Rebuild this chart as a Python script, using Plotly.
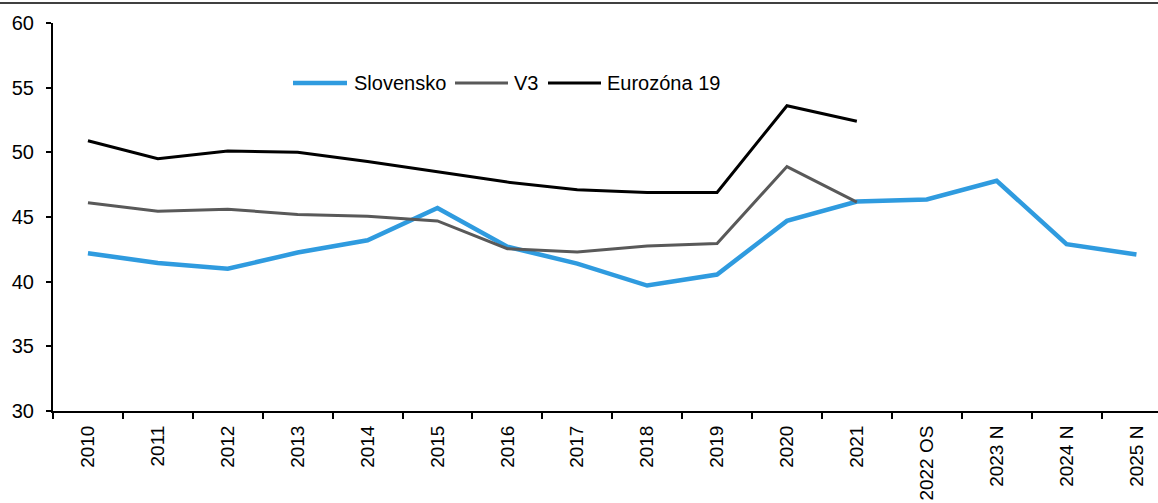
import plotly.graph_objects as go

# Categories (years; OS = estimate, N = forecast)
categories = ["2010", "2011", "2012", "2013", "2014", "2015", "2016", "2017",
              "2018", "2019", "2020", "2021", "2022 OS", "2023 N", "2024 N", "2025 N"]

slovensko = [42.2, 41.45, 41.0, 42.25, 43.2, 45.7, 42.7, 41.4,
             39.7, 40.55, 44.7, 46.2, 46.35, 47.8, 42.9, 42.1]
v3 = [46.1, 45.45, 45.6, 45.2, 45.05, 44.7, 42.55, 42.3,
      42.75, 42.95, 48.9, 46.15]
eurozona = [50.9, 49.5, 50.1, 50.0, 49.3, 48.5, 47.7, 47.1,
            46.9, 46.9, 53.6, 52.4]

series_names = ["Slovensko", "V3", "Eurozóna 19"]
series_colors = ["#2F9BDF", "#595959", "#000000"]
series_widths = [4.5, 3, 3]
series_values = [slovensko, v3, eurozona]

FONT = "Liberation Sans, Arial, sans-serif"
W, H = 1158, 503
ML, MR, MT, MB = 53, 0, 23, 92
plot_w = W - ML - MR
plot_h = H - MT - MB
cat_px = 69.9

fig = go.Figure()
for name, vals, col, lw in zip(series_names, series_values, series_colors, series_widths):
    fig.add_trace(go.Scatter(
        x=categories[:len(vals)], y=vals, mode="lines", name=name,
        line=dict(color=col, width=lw), showlegend=False,
    ))

# hand-placed legend: line sample + label
def px_x(p):
    return (p - ML) / plot_w

def px_y(p):
    return (H - MB - p) / plot_h

legend_items = [(293, 347, 352), (455, 508, 512), (548, 601, 605)]
leg_y = 83
for (x0, x1, tx), name, col, lw in zip(legend_items, series_names, series_colors, series_widths):
    fig.add_shape(type="line", xref="paper", yref="paper",
                  x0=px_x(x0), x1=px_x(x1), y0=px_y(leg_y), y1=px_y(leg_y),
                  line=dict(color=col, width=lw))
    fig.add_annotation(xref="paper", yref="paper", x=px_x(tx), y=px_y(leg_y),
                       text=name, showarrow=False, xanchor="left", yanchor="middle",
                       font=dict(family=FONT, size=20, color="#000000"))

# thin rule across the top
fig.add_shape(type="line", xref="paper", yref="paper",
              x0=px_x(0), x1=px_x(W), y0=px_y(3), y1=px_y(3),
              line=dict(color="#000000", width=1.5))

fig.update_layout(
    width=W, height=H,
    margin=dict(l=ML, r=MR, t=MT, b=MB, pad=0),
    paper_bgcolor="white", plot_bgcolor="white",
    font=dict(family=FONT, size=20, color="#000000"),
)
fig.update_xaxes(
    type="category", categoryorder="array", categoryarray=categories,
    range=[-0.5, -0.5 + plot_w / cat_px],
    showline=True, linecolor="#000000", linewidth=2,
    ticks="outside", tickson="boundaries", ticklen=6, tickwidth=2, tickcolor="#000000",
    tickangle=-90, ticklabelstandoff=5,
    showgrid=False, zeroline=False, automargin=False,
    tickfont=dict(family=FONT, size=19, color="#000000"),
)
fig.update_yaxes(
    range=[30, 60], tickvals=[30, 35, 40, 45, 50, 55, 60],
    showline=True, linecolor="#000000", linewidth=2,
    ticks="outside", ticklen=5, tickwidth=2, tickcolor="#000000",
    ticklabelstandoff=8,
    showgrid=False, zeroline=False, automargin=False,
    tickfont=dict(family=FONT, size=20, color="#000000"),
)

fig.write_html("out.html")
